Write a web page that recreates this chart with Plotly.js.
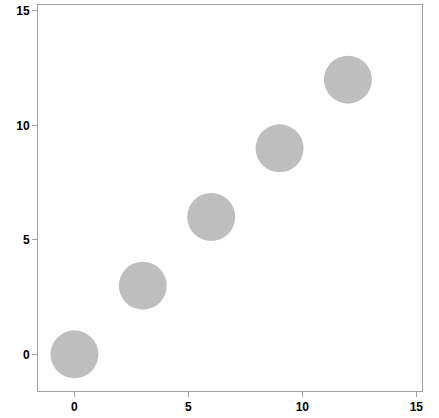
<!DOCTYPE html>
<html>
<head>
<script src="https://cdn.plot.ly/plotly-3.0.1.min.js"></script>
<style>body{margin:0;} #plot{width:439px;height:418px;}</style>
</head>
<body>
<div id="plot"></div>
<script>
var xs = [0, 3, 6, 9, 12];
var ys = [0, 3, 6, 9, 12];
var tickVals = [0, 5, 10, 15];

var trace = {
  x: xs,
  y: ys,
  mode: 'markers',
  type: 'scatter',
  marker: {size: 48, color: '#bebebe', line: {width: 0}},
  hoverinfo: 'none'
};

var axisStyle = {
  range: [-1.6, 15.25],
  tickvals: tickVals,
  ticks: 'outside',
  ticklen: 5,
  tickcolor: '#a0a0a0',
  showline: true,
  mirror: true,
  linecolor: '#a0a0a0',
  linewidth: 1,
  showgrid: false,
  zeroline: false,
  tickfont: {family: 'Liberation Sans, Arial', size: 12, color: '#000', weight: 'bold'}
};

var layout = {
  width: 439,
  height: 418,
  margin: {l: 38, r: 17, t: 5, b: 27},
  paper_bgcolor: '#fff',
  plot_bgcolor: '#fff',
  showlegend: false,
  xaxis: Object.assign({}, axisStyle),
  yaxis: Object.assign({}, axisStyle, {range: [-1.6, 15.26]})
};

Plotly.newPlot('plot', [trace], layout, {displayModeBar: false});
</script>
</body>
</html>
